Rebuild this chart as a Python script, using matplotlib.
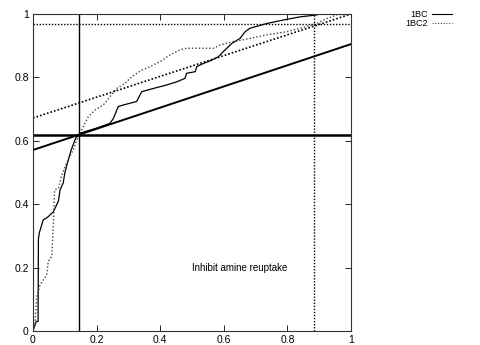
import matplotlib
matplotlib.use("Agg")
import matplotlib.pyplot as plt

plt.rcParams['font.family'] = ['Liberation Sans', 'DejaVu Sans']

# 1BC curve (solid)
bc_x = [0.0, 0.01, 0.016, 0.017, 0.02, 0.032, 0.047, 0.064, 0.08, 0.085, 0.095, 0.1,
        0.108, 0.12, 0.134, 0.145, 0.148, 0.2, 0.242, 0.253, 0.268, 0.284, 0.326, 0.336,
        0.342, 0.378, 0.42, 0.452, 0.478, 0.483, 0.51, 0.515, 0.536, 0.557, 0.583, 0.598,
        0.625, 0.651, 0.667, 0.682, 0.735, 0.787, 0.84, 0.892, 0.9, 1.0]
bc_y = [0.0, 0.03, 0.03, 0.29, 0.31, 0.35, 0.36, 0.376, 0.41, 0.445, 0.467, 0.498,
        0.529, 0.571, 0.608, 0.62, 0.624, 0.64, 0.655, 0.671, 0.708, 0.713, 0.724, 0.744,
        0.755, 0.765, 0.776, 0.786, 0.797, 0.813, 0.818, 0.834, 0.844, 0.852, 0.865, 0.881,
        0.907, 0.923, 0.944, 0.955, 0.97, 0.981, 0.991, 0.997, 1.0, 1.0]

# 1BC2 curve (dotted)
bc2_x = [0.0, 0.006, 0.012, 0.022, 0.043, 0.048, 0.059, 0.064, 0.068, 0.08, 0.089,
         0.105, 0.126, 0.142, 0.158, 0.174, 0.195, 0.221, 0.242, 0.263, 0.289, 0.31,
         0.342, 0.368, 0.4, 0.431, 0.462, 0.483, 0.515, 0.567, 0.588, 0.63, 0.682,
         0.735, 0.798, 0.84, 0.892, 0.924, 0.955, 0.98, 1.0]
bc2_y = [0.0, 0.024, 0.108, 0.145, 0.177, 0.219, 0.235, 0.34, 0.445, 0.45, 0.487,
         0.529, 0.571, 0.613, 0.645, 0.676, 0.697, 0.713, 0.739, 0.765, 0.781, 0.802,
         0.823, 0.834, 0.85, 0.871, 0.887, 0.892, 0.892, 0.892, 0.902, 0.913, 0.923,
         0.934, 0.944, 0.955, 0.97, 0.986, 0.997, 1.0, 1.0]

# reference lines
hline_solid = 0.618
hline_dotted = 0.968
vline_solid = 0.145
vline_dotted = 0.884
diag_solid = (0.571, 0.905)   # y at x=0, x=1
diag_dotted = (0.672, 1.0)

ticks = [0, 0.2, 0.4, 0.6, 0.8, 1]
tick_labels = ['0', '0.2', '0.4', '0.6', '0.8', '1']

fig = plt.figure(figsize=(4.81, 3.45), dpi=100)
ax = fig.add_axes([33/481, 14/345, 318/481, 317/345])

ax.plot(bc_x, bc_y, color='black', lw=0.9, label='1BC')
ax.plot(bc2_x, bc2_y, color='#444444', lw=1.0, ls=(0, (1, 1.5)), label='1BC2')

ax.axhline(hline_solid, color='black', lw=1.8)
ax.axhline(hline_dotted, color='black', lw=1.0, ls=(0, (1, 1.2)))
ax.axvline(vline_solid, color='black', lw=1.0)
ax.axvline(vline_dotted, color='black', lw=1.0, ls=(0, (1, 1.2)))
ax.plot([0, 1], list(diag_solid), color='black', lw=1.4)
ax.plot([0, 1], list(diag_dotted), color='black', lw=1.2, ls=(0, (1, 1.2)))

ax.text(0.5, 0.2, 'Inhibit amine reuptake', fontsize=7, ha='left', va='center')

ax.set_xlim(0, 1)
ax.set_ylim(0, 1)
ax.set_xticks(ticks)
ax.set_xticklabels(tick_labels)
ax.set_yticks(ticks)
ax.set_yticklabels(tick_labels)
ax.tick_params(direction='in', top=True, right=True, labelsize=7.5, length=4, width=0.6, pad=3)
for s in ax.spines.values():
    s.set_linewidth(0.8)
    s.set_color('#333333')

leg = ax.legend(loc='upper right', bbox_to_anchor=(452/481, 1 - 10/345),
                bbox_transform=fig.transFigure, frameon=False, markerfirst=False,
                fontsize=6.5, handlelength=2.2, handletextpad=0.5, labelspacing=0.05,
                borderaxespad=0, borderpad=0)
for h in leg.get_lines():
    h.set_linewidth(0.8)

fig.savefig('out.png', dpi=100)
